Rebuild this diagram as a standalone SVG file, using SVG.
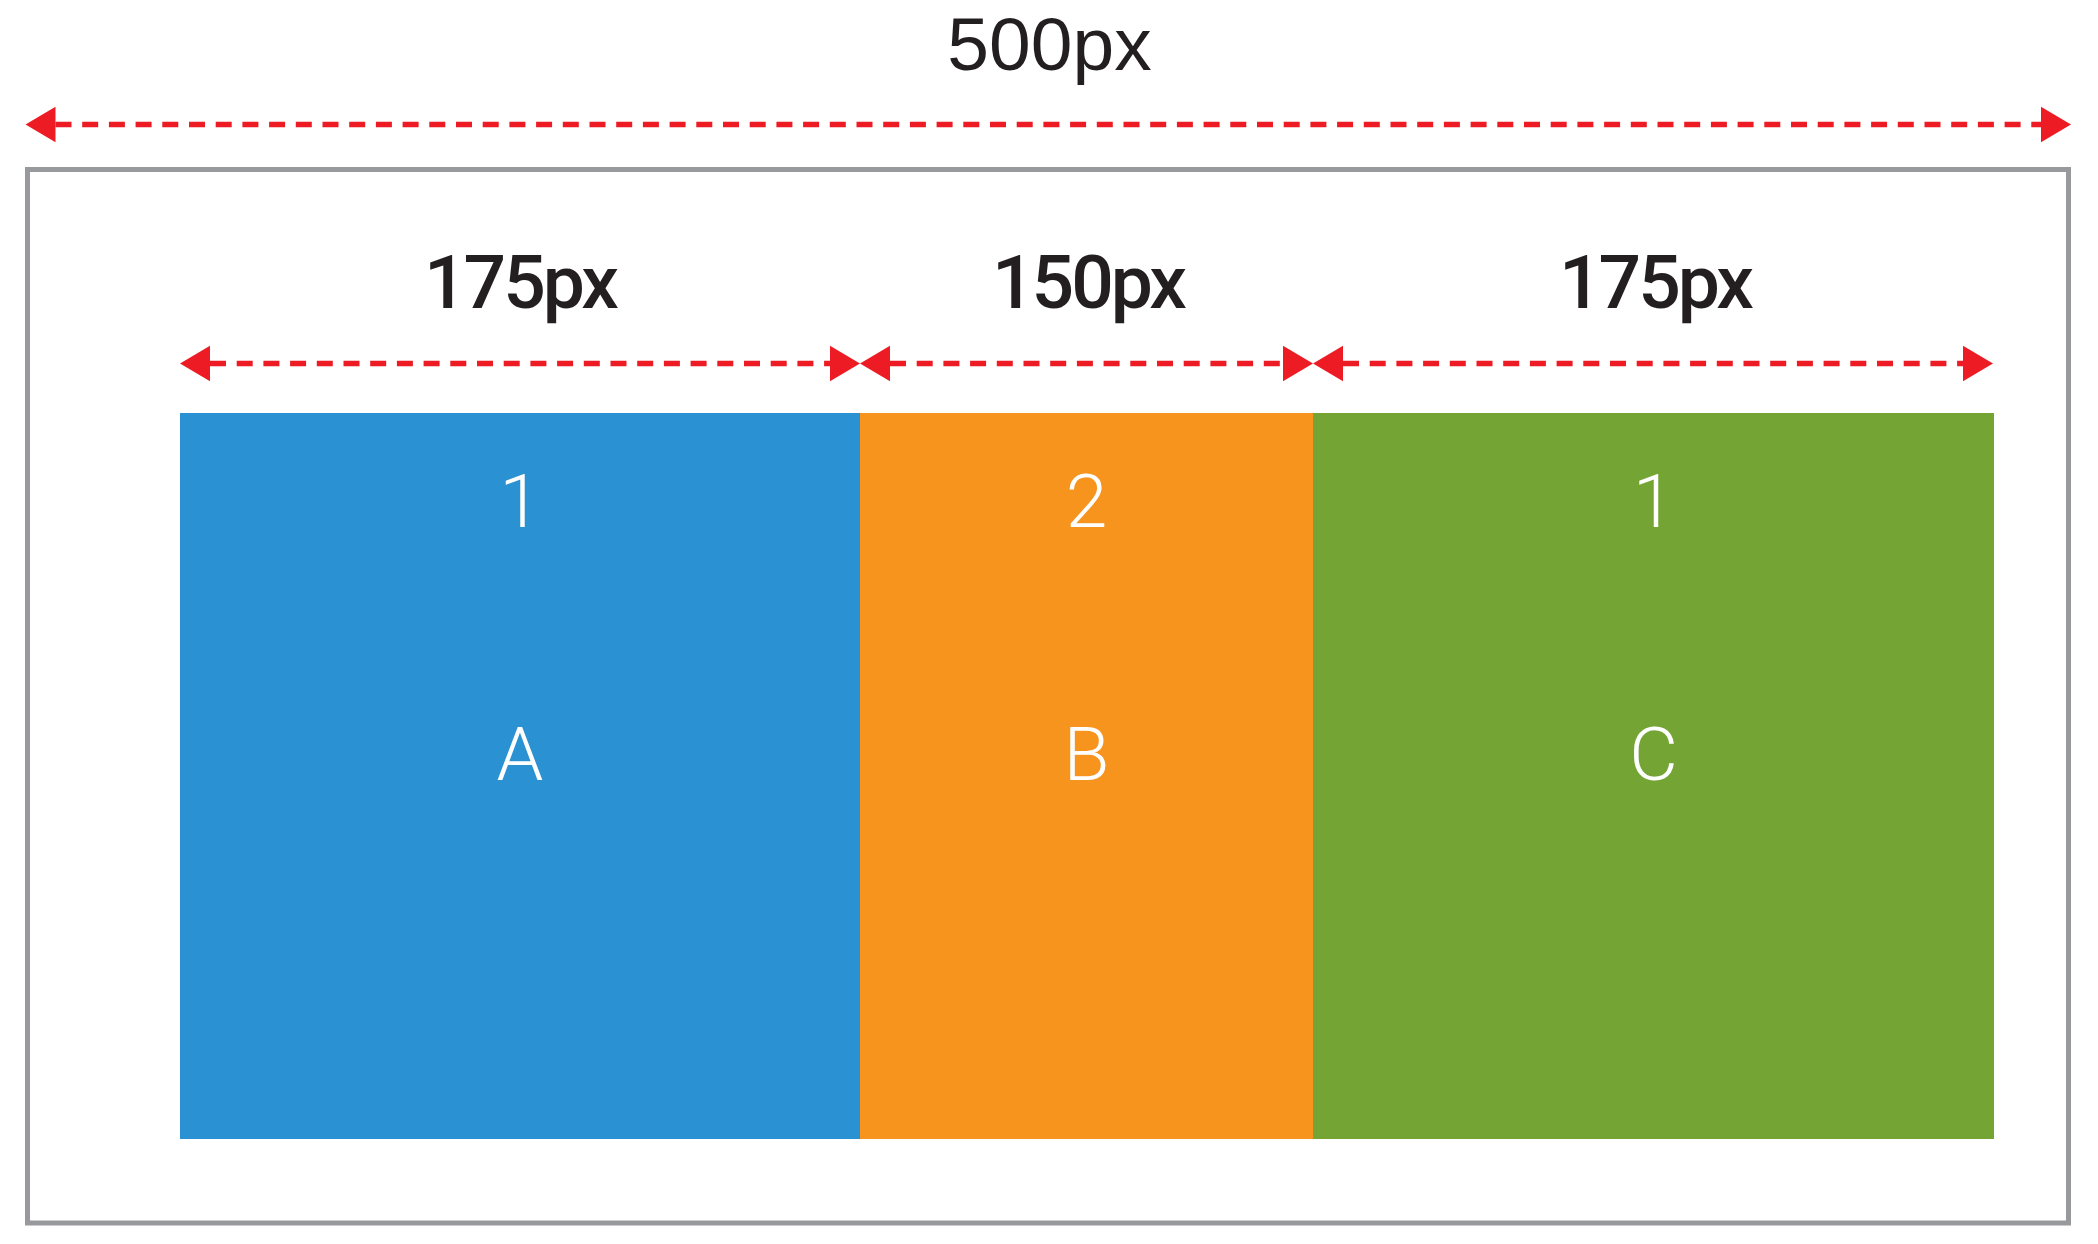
<svg xmlns="http://www.w3.org/2000/svg" width="2098" height="1244" viewBox="0 0 2098 1244">
<style>
.dim{stroke:#ed1c24;stroke-width:5.5;stroke-dasharray:16 10.7;fill:none;marker-start:url(#ah);marker-end:url(#ah)}
.lbl{font-family:"Liberation Sans",Arial,sans-serif;font-size:75px;fill:#231f20;text-anchor:middle}
.sub{font-family:Roboto,"Liberation Sans",Arial,sans-serif;font-weight:500;font-size:75px;letter-spacing:-3px;fill:#231f20;text-anchor:middle}
.in{font-family:Roboto,"Liberation Sans",Arial,sans-serif;font-weight:300;font-size:75px;fill:#ffffff;text-anchor:middle}
</style>
<defs>
<marker id="ah" markerUnits="userSpaceOnUse" markerWidth="31" markerHeight="36" refX="0" refY="17.7" orient="auto-start-reverse" overflow="visible">
<path d="M0,0 L30,17.7 L0,35.4 z" fill="#ed1c24"/>
</marker>
</defs>
<rect width="2098" height="1244" fill="#ffffff"/>
<g id="container">
<rect x="27.5" y="169.5" width="2041" height="1053.5" fill="#ffffff" stroke="#98999c" stroke-width="5"/>
</g>
<g id="itemA">
<rect x="180" y="413" width="680" height="726" fill="#2a92d2"/>
<text class="in" x="520" y="527">1</text>
<text class="in" x="520" y="780">A</text>
</g>
<g id="itemB">
<rect x="860" y="413" width="453" height="726" fill="#f7941e"/>
<text class="in" x="1086.5" y="527">2</text>
<text class="in" x="1086.5" y="780">B</text>
</g>
<g id="itemC">
<rect x="1313" y="413" width="681" height="726" fill="#74a534"/>
<text class="in" x="1653.5" y="527">1</text>
<text class="in" x="1653.5" y="780">C</text>
</g>
<g id="labels">
<text class="lbl" x="1049.5" y="70">500px</text>
<text class="sub" x="520" y="308">175px</text>
<text class="sub" x="1088" y="308">150px</text>
<text class="sub" x="1655" y="308">175px</text>
</g>
<g id="connectors">
<line class="dim" x1="55.5" y1="124.5" x2="2041" y2="124.5"/>
<line class="dim" x1="210" y1="363.5" x2="830" y2="363.5"/>
<line class="dim" x1="890" y1="363.5" x2="1283" y2="363.5"/>
<line class="dim" x1="1343" y1="363.5" x2="1963" y2="363.5"/>
</g>
</svg>
